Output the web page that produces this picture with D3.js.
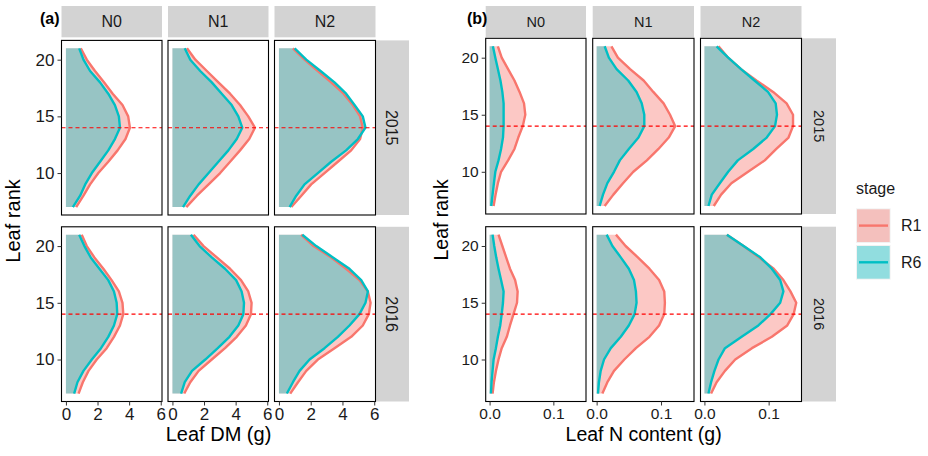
<!DOCTYPE html>
<html><head><meta charset="utf-8">
<script src="https://cdn.jsdelivr.net/npm/d3@7"></script>
<style>body{margin:0;background:#fff}svg{display:block;font-family:"Liberation Sans",Arial,sans-serif}</style>
</head><body><svg id="c" width="928" height="456"></svg>
<script>
// ---------- data ----------
const ranks = [21,20,19,18,17,16,15,14,13,12,11,10,9,8,7];
const years = ["2015","2016"];
const nLevels = ["N0","N1","N2"];
const stages = ["R1","R6"];
const refRank = 14;
const dmTicks = [0,2,4,6];
const nTicks = [0.0,0.1];
const rankTicks = [10,15,20];

// Leaf DM (g), values listed for ranks 21 -> 7
const dm2015N0R1 = [0.94,1.32,1.84,2.41,2.96,3.58,3.94,4.05,3.77,3.27,2.68,2.05,1.53,1.11,0.65];
const dm2015N0R6 = [0.84,1.11,1.53,2.16,2.68,3.10,3.35,3.42,3.10,2.68,2.16,1.64,1.22,0.90,0.44];
const dm2015N1R1 = [0.92,1.45,2.18,2.91,3.65,4.28,4.80,5.22,4.86,4.28,3.65,3.02,2.29,1.55,0.88];
const dm2015N1R6 = [0.78,1.13,1.76,2.49,3.12,3.75,4.17,4.42,4.07,3.54,2.91,2.29,1.66,1.13,0.67];
const dm2015N2R1 = [0.88,1.61,2.45,3.29,4.07,4.65,5.11,5.28,5.11,4.55,3.71,2.87,2.03,1.41,0.78];
const dm2015N2R6 = [0.99,1.72,2.62,3.50,4.23,4.76,5.28,5.45,4.97,4.23,3.29,2.45,1.61,1.09,0.67];
const dm2016N0R1 = [1.00,1.32,1.80,2.37,2.89,3.35,3.58,3.63,3.42,3.04,2.58,1.95,1.43,1.07,0.80];
const dm2016N0R6 = [0.84,1.17,1.57,2.12,2.68,3.04,3.21,3.25,3.04,2.68,2.22,1.64,1.11,0.73,0.52];
const dm2016N1R1 = [1.34,1.97,2.81,3.65,4.34,4.80,5.01,4.97,4.65,4.07,3.33,2.49,1.66,1.13,0.75];
const dm2016N1R6 = [1.17,1.72,2.49,3.33,4.03,4.38,4.53,4.49,4.17,3.61,2.87,2.08,1.24,0.78,0.55];
const dm2016N2R1 = [1.40,2.18,3.29,4.23,5.07,5.60,5.77,5.66,5.28,4.55,3.50,2.45,1.72,1.20,0.71];
const dm2016N2R6 = [1.47,2.35,3.40,4.44,5.18,5.60,5.45,5.07,4.44,3.71,2.87,1.93,1.30,0.88,0.50];

// Leaf N content (g), values listed for ranks 21 -> 7
const n2015N0R1 = [0.013,0.019,0.029,0.039,0.047,0.054,0.056,0.052,0.045,0.039,0.029,0.018,0.013,0.0094,0.0063];
const n2015N0R6 = [0.0052,0.009,0.013,0.017,0.020,0.022,0.022,0.022,0.021,0.018,0.014,0.009,0.0068,0.0047,0.0026];
const n2015N1R1 = [0.023,0.033,0.052,0.073,0.088,0.104,0.114,0.122,0.112,0.096,0.078,0.057,0.041,0.026,0.0125];
const n2015N1R6 = [0.0125,0.019,0.031,0.049,0.062,0.070,0.074,0.074,0.065,0.050,0.036,0.027,0.0167,0.0099,0.0047];
const n2015N2R1 = [0.022,0.037,0.057,0.081,0.107,0.128,0.138,0.138,0.131,0.112,0.094,0.068,0.042,0.026,0.0146];
const n2015N2R6 = [0.019,0.037,0.057,0.078,0.099,0.111,0.113,0.110,0.097,0.076,0.052,0.037,0.024,0.0115,0.0063];
const n2016N0R1 = [0.014,0.020,0.026,0.032,0.040,0.044,0.043,0.0375,0.032,0.027,0.019,0.014,0.010,0.0068,0.0047];
const n2016N0R6 = [0.0047,0.0073,0.0104,0.014,0.018,0.022,0.021,0.019,0.0167,0.013,0.0099,0.0063,0.0047,0.0031,0.0021];
const n2016N1R1 = [0.030,0.045,0.064,0.082,0.097,0.105,0.106,0.105,0.097,0.082,0.061,0.043,0.027,0.0167,0.0089];
const n2016N1R6 = [0.0156,0.0245,0.0375,0.050,0.058,0.061,0.062,0.059,0.050,0.0375,0.022,0.0115,0.0063,0.0036,0.0021];
const n2016N2R1 = [0.035,0.061,0.085,0.108,0.123,0.134,0.143,0.139,0.129,0.105,0.074,0.048,0.032,0.019,0.0104];
const n2016N2R6 = [0.035,0.061,0.087,0.105,0.118,0.123,0.118,0.103,0.084,0.058,0.032,0.022,0.0156,0.0104,0.0063];

const dmSeries = {
  "2015":{N0:{R1:dm2015N0R1,R6:dm2015N0R6},N1:{R1:dm2015N1R1,R6:dm2015N1R6},N2:{R1:dm2015N2R1,R6:dm2015N2R6}},
  "2016":{N0:{R1:dm2016N0R1,R6:dm2016N0R6},N1:{R1:dm2016N1R1,R6:dm2016N1R6},N2:{R1:dm2016N2R1,R6:dm2016N2R6}}
};
const nSeries = {
  "2015":{N0:{R1:n2015N0R1,R6:n2015N0R6},N1:{R1:n2015N1R1,R6:n2015N1R6},N2:{R1:n2015N2R1,R6:n2015N2R6}},
  "2016":{N0:{R1:n2016N0R1,R6:n2016N0R6},N1:{R1:n2016N1R1,R6:n2016N1R6},N2:{R1:n2016N2R1,R6:n2016N2R6}}
};

// ---------- styles ----------
const lineColor = {R1:"#F8766D", R6:"#00BFC4"};
const fillAlpha = 0.4;
const stripFill = "#d3d3d3";
const FONT = '"Liberation Sans",Arial,sans-serif';
const svg = d3.select("#c");

function drawFigure(cfg){
  const g = svg.append("g");
  const yScales = cfg.rows.map(r => d3.scaleLinear().domain([6.3,21.7]).range([r[1], r[0]]));
  const xScales = cfg.cols.map(c => d3.scaleLinear().domain(cfg.xDomain).range([c[0], c[1]]));

  // top strips
  nLevels.forEach((lv,i)=>{
    const c = cfg.cols[i];
    g.append("rect").attr("x",c[0]).attr("y",cfg.stripY[0]).attr("width",c[1]-c[0]).attr("height",cfg.stripY[1]-cfg.stripY[0]).attr("fill",stripFill);
    g.append("text").attr("x",(c[0]+c[1])/2).attr("y",(cfg.stripY[0]+cfg.stripY[1])/2).attr("dy","0.36em")
      .attr("text-anchor","middle").attr("font-size",cfg.stripFont).attr("fill","#1a1a1a").text(lv);
  });
  // right strips
  years.forEach((yr,j)=>{
    const r = cfg.rows[j];
    g.append("rect").attr("x",cfg.rStripX[0]).attr("y",r[0]).attr("width",cfg.rStripX[1]-cfg.rStripX[0]).attr("height",r[1]-r[0]).attr("fill",stripFill);
    const cx=(cfg.rStripX[0]+cfg.rStripX[1])/2, cy=(r[0]+r[1])/2;
    g.append("text").attr("transform",`translate(${cx},${cy}) rotate(90)`).attr("dy","0.36em")
      .attr("text-anchor","middle").attr("font-size",cfg.stripFont).attr("fill","#1a1a1a").text(yr);
  });

  years.forEach((yr,j)=>{
    const ys = yScales[j];
    nLevels.forEach((lv,i)=>{
      const xs = xScales[i];
      const c = cfg.cols[i], r = cfg.rows[j];
      const pg = g.append("g");
      const clipId = `clip-${cfg.id}-${j}-${i}`;
      pg.append("clipPath").attr("id",clipId).append("rect").attr("x",c[0]).attr("y",r[0]).attr("width",c[1]-c[0]).attr("height",r[1]-r[0]);
      const inner = pg.append("g").attr("clip-path",`url(#${clipId})`);
      const area = d3.area().y(d=>ys(d.rank)).x0(xs(0)).x1(d=>xs(d.v));
      const line = d3.line().y(d=>ys(d.rank)).x(d=>xs(d.v));
      stages.forEach(st=>{
        const vals = cfg.series[yr][lv][st].map((v,k)=>({rank:ranks[k], v}));
        inner.append("path").attr("d",area(vals)).attr("fill",lineColor[st]).attr("fill-opacity",fillAlpha);
      });
      stages.forEach(st=>{
        const vals = cfg.series[yr][lv][st].map((v,k)=>({rank:ranks[k], v}));
        inner.append("path").attr("d",line(vals)).attr("fill","none").attr("stroke",lineColor[st])
          .attr("stroke-width",2.4).attr("stroke-linejoin","round");
      });
      inner.append("line").attr("x1",c[0]).attr("x2",c[1]).attr("y1",ys(refRank)).attr("y2",ys(refRank))
        .attr("stroke","#ff0000").attr("stroke-width",1.1).attr("stroke-dasharray","4,3");
      pg.append("rect").attr("x",c[0]).attr("y",r[0]).attr("width",c[1]-c[0]).attr("height",r[1]-r[0])
        .attr("fill","none").attr("stroke","#000").attr("stroke-width",1.1);

      if(i===0){
        const ax = pg.append("g").attr("transform",`translate(${c[0]},0)`)
          .call(d3.axisLeft(ys).tickValues(rankTicks).tickSize(4).tickPadding(3));
        ax.attr("font-family",FONT).attr("font-size",cfg.tickFont);
        ax.select(".domain").remove();
        ax.selectAll("text").attr("fill","#1a1a1a");
        ax.selectAll("line").attr("stroke","#333");
      }
      if(j===1){
        const ax = pg.append("g").attr("transform",`translate(0,${r[1]})`)
          .call(d3.axisBottom(xs).tickValues(cfg.xTicks).tickFormat(cfg.xFormat).tickSize(4).tickPadding(2));
        ax.attr("font-family",FONT).attr("font-size",cfg.tickFont);
        ax.select(".domain").remove();
        ax.selectAll("text").attr("fill","#1a1a1a");
        ax.selectAll("line").attr("stroke","#333");
      }
    });
  });

  // axis titles
  g.append("text").attr("x",(cfg.cols[0][0]+cfg.cols[2][1])/2).attr("y",441).attr("text-anchor","middle")
    .attr("font-size",cfg.titleFont).text(cfg.xTitle);
  g.append("text").attr("transform",`translate(${cfg.yTitleX},${(cfg.rows[0][0]+cfg.rows[1][1])/2}) rotate(-90)`)
    .attr("text-anchor","middle").attr("font-size",cfg.titleFont).text("Leaf rank");
  // tag
  g.append("text").attr("x",cfg.tagX).attr("y",24).attr("font-size",16).attr("font-weight","bold").text(cfg.tag);
}

drawFigure({
  id:"a", tag:"(a)", tagX:40,
  cols:[[61.5,162],[168,268.5],[274.5,375.5]],
  rows:[[40.4,215],[226.8,401.5]],
  stripY:[6,37.3], rStripX:[375.5,409],
  xDomain:[-0.28,6.08], xTicks:dmTicks, xFormat:d3.format("d"),
  series:dmSeries, xTitle:"Leaf DM (g)", yTitleX:20,
  stripFont:16, tickFont:17, titleFont:20
});
drawFigure({
  id:"b", tag:"(b)", tagX:467,
  cols:[[485.7,586],[592.7,694],[700.5,801.5]],
  rows:[[38.3,214],[226.7,401.5]],
  stripY:[6,37.3], rStripX:[801.5,836],
  xDomain:[-0.0061,0.1512], xTicks:nTicks, xFormat:d3.format(".1f"),
  series:nSeries, xTitle:"Leaf N content (g)", yTitleX:448,
  stripFont:14.5, tickFont:15.5, titleFont:19.5
});

// legend
const leg = svg.append("g");
leg.append("text").attr("x",856).attr("y",194).attr("font-size",16).attr("fill","#1a1a1a").text("stage");
stages.forEach((st,k)=>{
  const y0 = 208.3 + k*36.7;
  leg.append("rect").attr("x",856).attr("y",y0).attr("width",34.7).attr("height",34.7).attr("fill","#f2f2f2");
  leg.append("rect").attr("x",857).attr("y",y0+1).attr("width",32.7).attr("height",32.7).attr("fill",lineColor[st]).attr("fill-opacity",fillAlpha);
  leg.append("line").attr("x1",859).attr("x2",888).attr("y1",y0+17.3).attr("y2",y0+17.3).attr("stroke",lineColor[st]).attr("stroke-width",2.4);
  leg.append("text").attr("x",901).attr("y",y0+17.3).attr("dy","0.36em").attr("font-size",16).attr("fill","#1a1a1a").text(st);
});
</script></body></html>
